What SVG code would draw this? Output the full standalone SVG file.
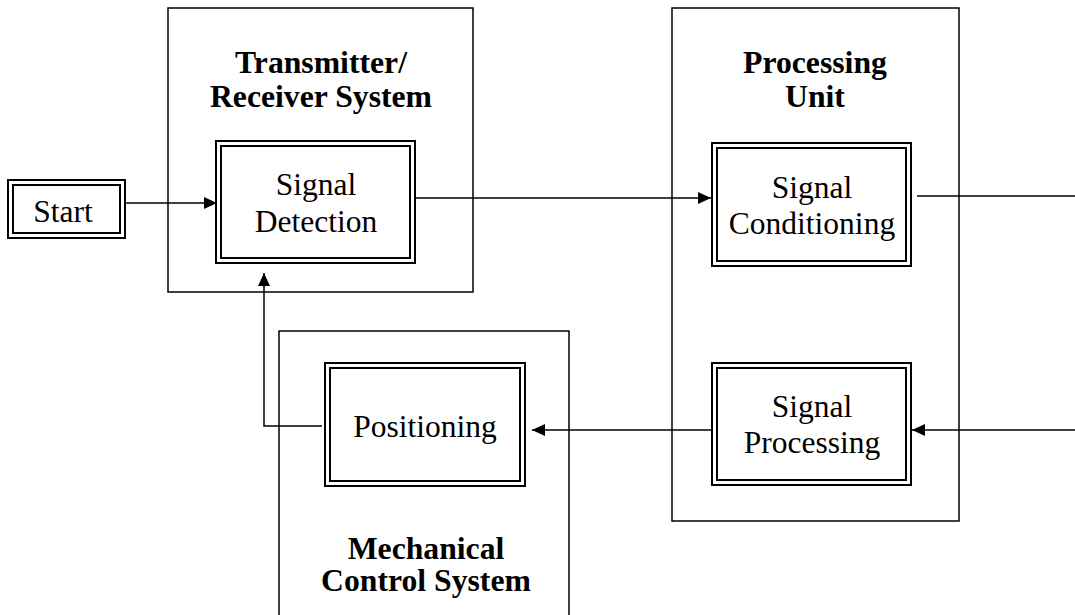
<svg xmlns="http://www.w3.org/2000/svg" width="1075" height="615" viewBox="0 0 1075 615">
<style>
.cont{fill:none;stroke:#000;stroke-width:1.5}
.dbl{fill:#fff;stroke:#000;stroke-width:2}
.t{font-family:"Liberation Serif","Times New Roman",serif;font-size:31.5px;text-anchor:middle;fill:#000}
.b{font-family:"Liberation Serif","Times New Roman",serif;font-size:31.7px;font-weight:bold;text-anchor:middle;fill:#000}
.c{fill:none;stroke:#000;stroke-width:1.5}
</style>
<defs>
<marker id="ah" markerUnits="userSpaceOnUse" markerWidth="14" markerHeight="12" refX="13" refY="6" orient="auto">
<path d="M0,0 L13,6 L0,12 Z" fill="#000"/>
</marker>
</defs>
<rect width="1075" height="615" fill="#fff"/>
<g id="transmitter">
<rect class="cont" x="168" y="8" width="305" height="284"/>
<text class="b" x="321" y="73">Transmitter/</text>
<text class="b" x="321" y="107">Receiver System</text>
</g>
<g id="processing-unit">
<rect class="cont" x="672" y="8" width="287" height="513"/>
<text class="b" x="815" y="73">Processing</text>
<text class="b" x="815" y="107">Unit</text>
</g>
<g id="mechanical">
<path class="cont" d="M279,620 V331 H569 V620"/>
<text class="b" x="426" y="559">Mechanical</text>
<text class="b" x="426" y="591">Control System</text>
</g>
<g id="start">
<rect class="dbl" x="8" y="180" width="117" height="58"/>
<rect class="dbl" x="13" y="185" width="107" height="48"/>
<text class="t" x="63" y="222">Start</text>
</g>
<g id="signal-detection">
<rect class="dbl" x="216" y="141" width="199" height="122"/>
<rect class="dbl" x="221" y="146" width="189" height="112"/>
<text class="t" x="316" y="195">Signal</text>
<text class="t" x="316" y="232">Detection</text>
</g>
<g id="signal-conditioning">
<rect class="dbl" x="712" y="143" width="199" height="123"/>
<rect class="dbl" x="717" y="148" width="189" height="113"/>
<text class="t" x="812" y="198">Signal</text>
<text class="t" x="812" y="234">Conditioning</text>
</g>
<g id="signal-processing">
<rect class="dbl" x="712" y="363" width="199" height="122"/>
<rect class="dbl" x="717" y="368" width="189" height="112"/>
<text class="t" x="812" y="417">Signal</text>
<text class="t" x="812" y="453">Processing</text>
</g>
<g id="positioning">
<rect class="dbl" x="325" y="363" width="200" height="123"/>
<rect class="dbl" x="330" y="368" width="190" height="113"/>
<text class="t" x="425" y="437">Positioning</text>
</g>
<g id="connectors">
<path class="c" d="M125,203 H217" marker-end="url(#ah)"/>
<path class="c" d="M415,198 H711" marker-end="url(#ah)"/>
<path class="c" d="M917,196 H1075"/>
<path class="c" d="M1075,430 H912" marker-end="url(#ah)"/>
<path class="c" d="M712,430 H532" marker-end="url(#ah)"/>
<path class="c" d="M322,426 H264 V273" marker-end="url(#ah)"/>
</g>
</svg>
